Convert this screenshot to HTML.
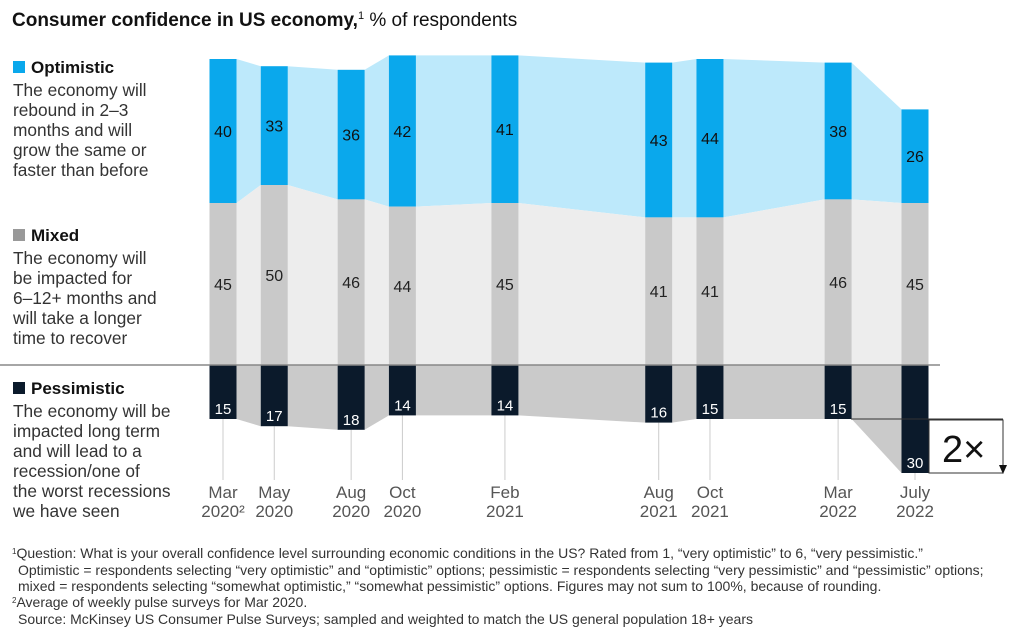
<!DOCTYPE html>
<html><head><meta charset="utf-8"><style>
body{margin:0;background:#fff;font-family:"Liberation Sans",sans-serif;}
svg text{font-family:"Liberation Sans",sans-serif;}
</style></head><body>
<svg id="c" width="1010" height="638" xmlns="http://www.w3.org/2000/svg">
<text x="12" y="26" font-size="19" fill="#111"><tspan font-weight="bold">Consumer confidence in US economy,</tspan><tspan font-size="11" dy="-7">1</tspan><tspan dy="7"> % of respondents</tspan></text>
<g font-size="17.3" fill="#333">
<rect x="13" y="61" width="12" height="12" fill="#0aa8ec"/>
<text x="31" y="73" font-weight="bold" fill="#111" font-size="17">Optimistic</text>
<text x="13" y="96">The economy will</text><text x="13" y="116">rebound in 2–3</text><text x="13" y="136">months and will</text><text x="13" y="156">grow the same or</text><text x="13" y="176">faster than before</text>
<rect x="13" y="229" width="12" height="12" fill="#999"/>
<text x="31" y="241" font-weight="bold" fill="#111" font-size="17">Mixed</text>
<text x="13" y="264">The economy will</text><text x="13" y="284">be impacted for</text><text x="13" y="304">6–12+ months and</text><text x="13" y="324">will take a longer</text><text x="13" y="344">time to recover</text>
<rect x="13" y="382" width="12" height="12" fill="#0b1a2b"/>
<text x="31" y="394" font-weight="bold" fill="#111" font-size="17">Pessimistic</text>
<text x="13" y="417">The economy will be</text><text x="13" y="437">impacted long term</text><text x="13" y="457">and will lead to a</text><text x="13" y="477">recession/one of</text><text x="13" y="497">the worst recessions</text><text x="13" y="517">we have seen</text>
</g>
<g id="plot"></g>
<line x1="0" y1="365" x2="940" y2="365" stroke="#888" stroke-width="1.5"/>
<g>
<line x1="851" y1="419" x2="1003" y2="419" stroke="#333" stroke-width="1"/>
<rect x="929" y="420" width="74" height="53" fill="#fff" stroke="#333" stroke-width="1"/>
<text x="942" y="462" font-size="38" fill="#111">2×</text>
<polygon points="999,465 1007,465 1003,474" fill="#111"/>
</g>
<g font-size="14" fill="#333">
<text x="12" y="558"><tspan font-size="8" dy="-4">1</tspan><tspan dy="4">Question: What is your overall confidence level surrounding economic conditions in the US? Rated from 1, “very optimistic” to 6, “very pessimistic.”</tspan></text>
<text x="18" y="575">Optimistic = respondents selecting “very optimistic” and “optimistic” options; pessimistic = respondents selecting “very pessimistic” and “pessimistic” options;</text>
<text x="18" y="591">mixed = respondents selecting “somewhat optimistic,” “somewhat pessimistic” options. Figures may not sum to 100%, because of rounding.</text>
<text x="12" y="607"><tspan font-size="8" dy="-4">2</tspan><tspan dy="4">Average of weekly pulse surveys for Mar 2020.</tspan></text>
<text x="18" y="624">Source: McKinsey US Consumer Pulse Surveys; sampled and weighted to match the US general population 18+ years</text>
</g>
</svg>
<script>
const labelsTop = ["Mar","May","Aug","Oct","Feb","Aug","Oct","Mar","July"];
const labelsBottom = ["2020","2020","2020","2020","2021","2021","2021","2022","2022"];
const monthIndex = [0,2,5,7,11,17,19,24,27];
const optimistic = [40,33,36,42,41,43,44,38,26];
const mixed = [45,50,46,44,45,41,41,46,45];
const pessimistic = [15,17,18,14,14,16,15,15,30];
const NS="http://www.w3.org/2000/svg";
const base=365, k=3.6, bw=27;
function xs(i){return 223 + monthIndex[i]*(915-223)/27;}
function y(v){return base - v*k;}
function yd(v){return base + v*k;}
const g=document.getElementById('plot');
function el(t,a){const e=document.createElementNS(NS,t);for(const n in a)e.setAttribute(n,a[n]);g.appendChild(e);return e;}
const n=labelsTop.length;
for(let i=0;i<n-1;i++){
  const x1=xs(i)+bw/2,x2=xs(i+1)-bw/2;
  const m1=y(mixed[i]),m2=y(mixed[i+1]),o1=y(mixed[i]+optimistic[i]),o2=y(mixed[i+1]+optimistic[i+1]);
  const a=el('polygon',{points:`${x1},${o1} ${x2},${o2} ${x2},${m2} ${x1},${m1}`,fill:'#bde9fb'});
  
  const b=el('polygon',{points:`${x1},${m1} ${x2},${m2} ${x2},${base} ${x1},${base}`,fill:'#ededed'});
  
  const c=el('polygon',{points:`${x1},${base} ${x2},${base} ${x2},${yd(pessimistic[i+1])} ${x1},${yd(pessimistic[i])}`,fill:'#cacaca'});
  
}
for(let i=0;i<n;i++){
  const x=xs(i),l=x-bw/2;
  const t=el('line',{x1:x,y1:yd(pessimistic[i]),x2:x,y2:480,stroke:'#ccc','stroke-width':1});
  
  const r1=el('rect',{x:l,y:y(mixed[i]+optimistic[i]),width:bw,height:optimistic[i]*k,fill:'#0aa8ec'});
  
  const r2=el('rect',{x:l,y:y(mixed[i]),width:bw,height:mixed[i]*k,fill:'#c9c9c9'});
  
  const r3=el('rect',{x:l,y:base,width:bw,height:pessimistic[i]*k,fill:'#0b1a2b'});
  
  const v1=el('text',{x:x,y:y(mixed[i]+optimistic[i]/2)+6,'text-anchor':'middle','font-size':16,fill:'#111'});v1.textContent=optimistic[i];
  
  const v2=el('text',{x:x,y:y(mixed[i]/2)+6,'text-anchor':'middle','font-size':16,fill:'#222'});v2.textContent=mixed[i];
  
  const v3=el('text',{x:x,y:yd(pessimistic[i])-5,'text-anchor':'middle','font-size':15,fill:'#fff'});v3.textContent=pessimistic[i];
  
  const a=el('text',{x:x,y:498,'text-anchor':'middle','font-size':17,fill:'#555'});a.textContent=labelsTop[i];
  
  const b=el('text',{x:x,y:517,'text-anchor':'middle','font-size':17,fill:'#555'});b.textContent=labelsBottom[i]+(i===0?'²':'');
  
}
</script>
</body></html>
